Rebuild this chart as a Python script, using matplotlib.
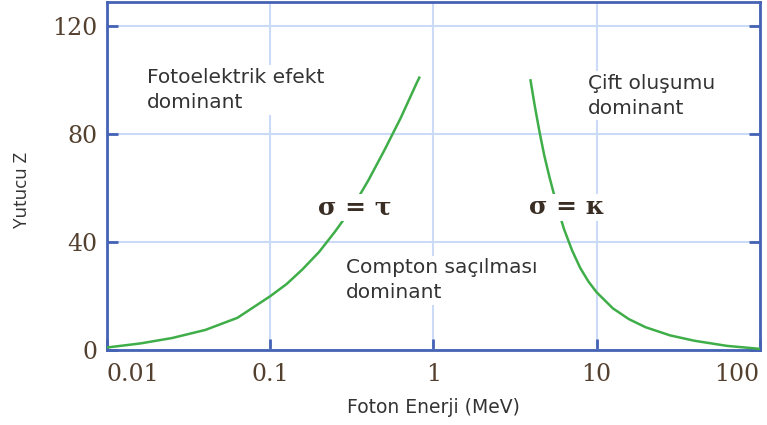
import matplotlib.pyplot as plt

# photoelectric / compton boundary (sigma = tau)
tau_energy = [0.01, 0.016, 0.025, 0.04, 0.063, 0.1, 0.126, 0.158, 0.2, 0.25,
              0.32, 0.4, 0.5, 0.63, 0.79, 0.82]
tau_z = [1.0, 2.5, 4.5, 7.5, 12, 20, 24.5, 30, 36.5, 44,
         53, 63, 74, 86, 99, 101]

# compton / pair production boundary (sigma = kappa)
kappa_energy = [3.94, 4.17, 4.47, 4.79, 5.13, 5.5, 5.89, 6.31, 7.08, 7.94,
                8.91, 10, 12.6, 15.8, 20, 28.2, 39.8, 63.1, 100]
kappa_z = [100, 91, 81, 72, 64.5, 57.5, 51, 45, 37, 30.5,
           25.5, 21.5, 15.5, 11.5, 8.5, 5.5, 3.5, 1.6, 0.5]

x_ticks = [0.01, 0.1, 1, 10, 100]
x_labels = ["0.01", "0.1", "1", "10", "100"]
y_ticks = [0, 40, 80, 120]

spine_c = "#4563b5"
grid_c = "#cbdaf6"
curve_c = "#3fae49"
tick_c = "#54402f"
text_c = "#333333"

fig = plt.figure(figsize=(7.67, 4.25), dpi=100)
ax = fig.add_axes([0.1395, 0.176, 0.851, 0.819])

ax.set_xscale("log")
ax.set_xlim(0.01, 100)
ax.set_ylim(0, 129)

ax.plot(tau_energy, tau_z, color=curve_c, lw=1.8, zorder=3)
ax.plot(kappa_energy, kappa_z, color=curve_c, lw=1.8, zorder=3)

ax.set_xticks(x_ticks)
ax.set_xticklabels(x_labels)
ax.minorticks_off()
ax.set_yticks(y_ticks)
ax.grid(True, color=grid_c, lw=1.5, zorder=0)
ax.set_axisbelow(True)

for s in ax.spines.values():
    s.set_color(spine_c)
    s.set_linewidth(2)

ax.tick_params(axis="both", direction="in", length=8, width=2, color=spine_c,
               labelcolor=tick_c, labelsize=17, right=True)
for lab in ax.get_xticklabels() + ax.get_yticklabels():
    lab.set_family("DejaVu Serif")
xl = ax.get_xticklabels()
xl[0].set_ha("left")
xl[-1].set_ha("right")
ax.tick_params(axis="x", pad=9)
ax.tick_params(axis="y", pad=7)

ax.set_xlabel("Foton Enerji (MeV)", fontsize=13.5, family="DejaVu Sans", color=text_c, labelpad=9)
ax.set_ylabel("Yutucu Z", fontsize=13.5, family="Open Sans", color=text_c)
ax.yaxis.set_label_coords(-0.116, 0.46)

box = dict(facecolor="white", edgecolor="none", pad=2)
txt = dict(fontsize=14.5, family="DejaVu Sans", color=text_c, linespacing=1.4, zorder=4)
ax.text(0.0176, 104.5, "Fotoelektrik efekt\ndominant", va="top", ha="left", bbox=box, **txt)
ax.text(8.9, 102.5, "Çift oluşumu\ndominant", va="top", ha="left", bbox=box, **txt)
ax.text(0.293, 34, "Compton saçılması\ndominant", va="top", ha="left", bbox=box, **txt)

sig = dict(fontsize=18, family="DejaVu Serif", weight="bold", color="#3a2e24",
           ha="center", va="center", zorder=5, bbox=dict(facecolor="white", edgecolor="none", pad=1))
ax.text(0.332, 53, "σ = τ", **sig)
ax.text(6.55, 53, "σ = κ", **sig)

fig.savefig("out.png", dpi=100)
